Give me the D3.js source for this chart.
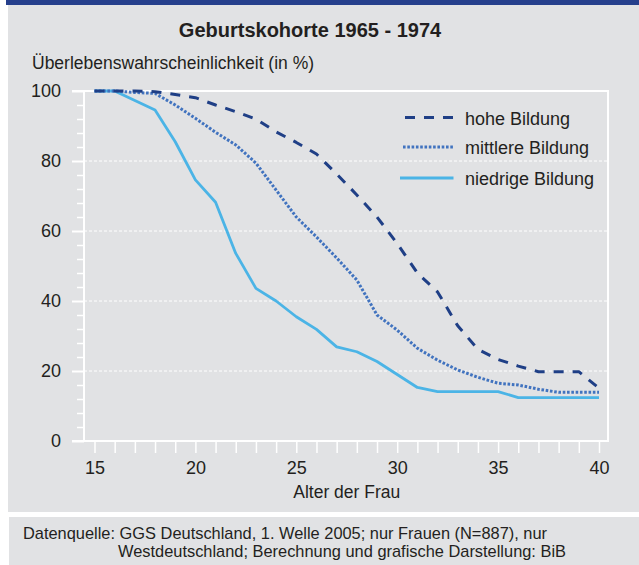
<!DOCTYPE html>
<html><head><meta charset="utf-8">
<script src="https://cdn.jsdelivr.net/npm/d3@7/dist/d3.min.js"></script>
<style>
body{margin:0;background:#fff}
svg{display:block}
text{font-family:"Liberation Sans",Arial,Helvetica,sans-serif;fill:#231f20}
</style>
</head><body>
<svg id="chart" width="639" height="565"></svg>
<script>
// ---- data ----
const ages = [15,16,17,18,19,20,21,22,23,24,25,26,27,28,29,30,31,32,33,34,35,36,37,38,39,40];
const hohe = [100,100,100,99.8,99,98.1,96,94.1,92,88.3,85.3,82,76.3,70.3,64,56.4,48,42.6,32.9,26.2,23.3,21.4,19.8,19.8,19.8,15.1];
const mittlere = [100,100,99.6,99.3,96,92.2,88.2,84.6,79.4,71.7,64,58.3,52.3,46,36,31.7,26.5,23.1,20.3,18.2,16.5,16,14.8,13.9,13.9,13.9];
const niedrige = [100,100,97.3,94.6,85.5,74.6,68.2,53.6,43.6,40,35.5,31.9,26.9,25.5,22.7,19,15.3,14.1,14.1,14.1,14.1,12.4,12.4,12.4,12.4,12.4];
const seriesNames = ["hohe Bildung","mittlere Bildung","niedrige Bildung"];
const yTickValues = [0,20,40,60,80,100];
const yMinorTicks = [4,8,12,16,24,28,32,36,44,48,52,56,64,68,72,76,84,88,92,96];
const xTickLabels = [15,20,25,30,35,40];
const titleText = "Geburtskohorte 1965 - 1974";
const yTitle = "Überlebenswahrscheinlichkeit (in %)";
const xTitle = "Alter der Frau";
const sourceLines = ["Datenquelle: GGS Deutschland, 1. Welle 2005; nur Frauen (N=887), nur",
                     "Westdeutschland; Berechnung und grafische Darstellung: BiB"];

// ---- styles ----
const colors = {hohe:"#1f3f86", mittlere:"#4173bf", niedrige:"#4bb4e6"};
const svg = d3.select("#chart");
const W = 639, H = 565;

svg.append("rect").attr("x",0).attr("y",0).attr("width",W).attr("height",H).attr("fill","#fff");
svg.append("rect").attr("x",6).attr("y",0).attr("width",W-6).attr("height",5).attr("fill","#253f8c");
svg.append("rect").attr("x",8).attr("y",5).attr("width",W-8).attr("height",507).attr("fill","#e1e2e4");
svg.append("rect").attr("x",9).attr("y",517).attr("width",W-9).attr("height",48).attr("fill","#e1e2e4");

const x = d3.scaleLinear().domain([15,40]).range([94.5,599]);
const y = d3.scaleLinear().domain([0,100]).range([441,91]);
const plotL = 84, plotR = 608;

// gridlines
svg.append("g").selectAll("line").data([20,40,60,80]).join("line")
  .attr("x1",plotL).attr("x2",plotR).attr("y1",d=>y(d)).attr("y2",d=>y(d))
  .attr("stroke","#fff").attr("stroke-width",1).attr("stroke-dasharray","3,2");

// frame
const frame = svg.append("g").attr("stroke","#fff").attr("stroke-width",2).attr("fill","none");
frame.append("line").attr("x1",plotL-12).attr("x2",plotR+1).attr("y1",y(100)).attr("y2",y(100));
frame.append("line").attr("x1",plotR).attr("x2",plotR).attr("y1",y(100)).attr("y2",y(0));
frame.append("line").attr("x1",plotL-12).attr("x2",plotR+1).attr("y1",y(0)).attr("y2",y(0));
frame.append("line").attr("x1",plotL).attr("x2",plotL).attr("y1",y(100)).attr("y2",y(0));

// y axis
const yAxis = svg.append("g").attr("transform",`translate(${plotL},0)`)
  .call(d3.axisLeft(y).tickValues(yTickValues).tickSize(12).tickPadding(11).tickFormat(d3.format("d")));
yAxis.select(".domain").remove();
yAxis.selectAll(".tick line").attr("stroke","#fff").attr("stroke-width",2);
yAxis.selectAll(".tick text").attr("font-size",18).attr("fill","#231f20")
  .attr("font-family",'"Liberation Sans",Arial,sans-serif');
const yMinor = svg.append("g").attr("transform",`translate(${plotL},0)`)
  .call(d3.axisLeft(y).tickValues(yMinorTicks).tickSize(7).tickFormat(""));
yMinor.select(".domain").remove();
yMinor.selectAll(".tick line").attr("stroke","#fff").attr("stroke-width",1.5);

// x axis
const xAxis = svg.append("g").attr("transform",`translate(0,${y(0)})`)
  .call(d3.axisBottom(x).tickValues(ages).tickSize(12).tickPadding(8)
    .tickFormat(d=>xTickLabels.includes(d)?d:""));
xAxis.select(".domain").remove();
xAxis.selectAll(".tick line").attr("stroke","#fff").attr("stroke-width",1.5);
xAxis.selectAll(".tick text").attr("font-size",18).attr("fill","#231f20")
  .attr("font-family",'"Liberation Sans",Arial,sans-serif');

// series
const line = d3.line().x((d,i)=>x(ages[i])).y(d=>y(d));
const styles = [
  {data:hohe, color:colors.hohe, dash:"10,9", w:3},
  {data:mittlere, color:colors.mittlere, dash:"2.6,1.7", w:3},
  {data:niedrige, color:colors.niedrige, dash:null, w:2.8}
];
// draw niedrige first, then mittlere, then hohe
[2,1,0].forEach(k=>{
  const s = styles[k];
  svg.append("path").datum(s.data).attr("d",line)
    .attr("fill","none").attr("stroke",s.color).attr("stroke-width",s.w)
    .attr("stroke-dasharray",s.dash).attr("stroke-linejoin","round");
});

// legend
const legY = [117.5, 147, 178];
const leg = svg.append("g");
seriesNames.forEach((n,i)=>{
  const s = styles[i];
  leg.append("line").attr("x1",i===2?400:(i===1?403:405)).attr("x2",453.5)
    .attr("y1",legY[i]).attr("y2",legY[i])
    .attr("stroke",s.color).attr("stroke-width",s.w).attr("stroke-dasharray",s.dash);
  leg.append("text").attr("x",465).attr("y",legY[i]+7).attr("font-size",18).text(n);
});

// titles
svg.append("text").attr("x",310).attr("y",37).attr("text-anchor","middle")
  .attr("font-size",20).attr("font-weight","bold").text(titleText);
svg.append("text").attr("x",32).attr("y",69).attr("font-size",17.5).text(yTitle);
svg.append("text").attr("x",(x(15)+x(40))/2).attr("y",498).attr("text-anchor","middle")
  .attr("font-size",17.5).text(xTitle);
svg.append("text").attr("x",23).attr("y",539).attr("font-size",16.4).text(sourceLines[0]);
svg.append("text").attr("x",118).attr("y",557).attr("font-size",16.4).text(sourceLines[1]);
</script>
</body></html>
